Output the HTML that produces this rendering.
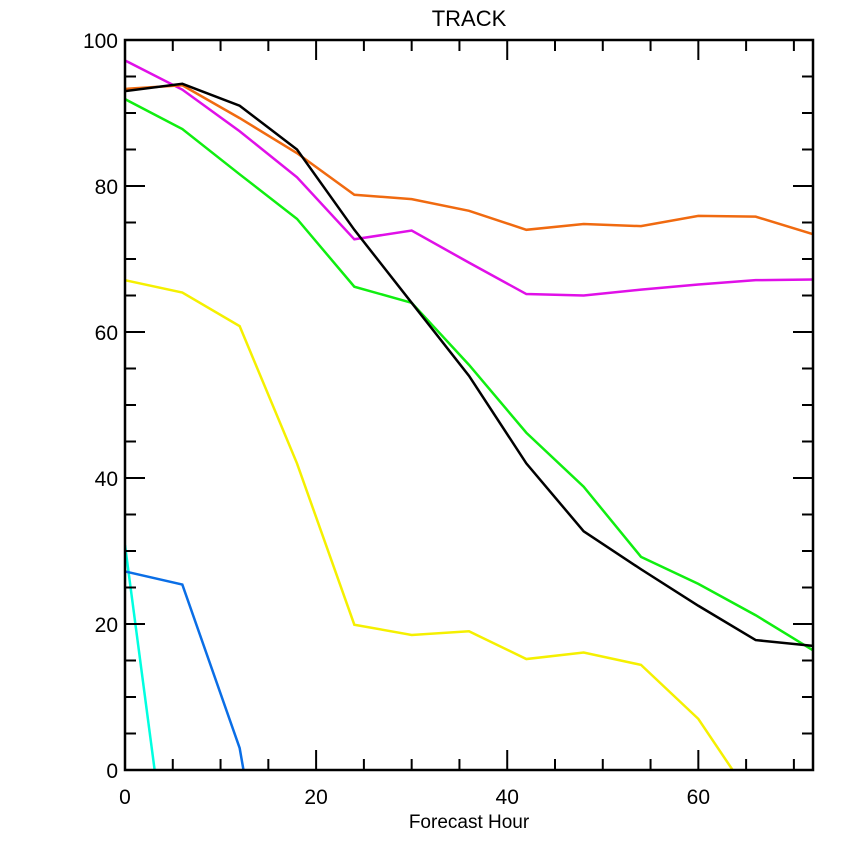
<!DOCTYPE html>
<html style="margin:0;width:850px;height:850px;overflow:hidden"><head><meta charset="utf-8"><style>html,body{margin:0;padding:0;width:850px;height:850px;overflow:hidden;background:#fff}svg{display:block;overflow:hidden}text{font-family:"Liberation Sans",sans-serif;fill:#000}</style></head>
<body>
<svg id="chart" width="850" height="850" viewBox="0 0 850 850">
<defs><clipPath id="clip"><rect x="125" y="40" width="688" height="730"/></clipPath></defs>
<rect width="850" height="850" fill="#fff"/>
<text x="469" y="26" font-size="22" text-anchor="middle">TRACK</text>
<text x="469" y="828" font-size="19" text-anchor="middle">Forecast Hour</text>
<g id="series" clip-path="url(#clip)"></g>
<g id="axes"></g>
</svg>
<script>
const hours = [0,6,12,18,24,30,36,42,48,54,60,66,72];
const xTicks = [0,20,40,60];
const yTicks = [0,20,40,60,80,100];
const blackVals = [93,94,91,85,74,64,54,42,32.7,27.5,22.5,17.8,17];
const orangeVals = [93.3,93.8,89.3,84.5,78.8,78.2,76.6,74,74.8,74.5,75.9,75.8,73.4];
const magentaVals = [97.2,93.2,87.5,81.2,72.7,73.9,69.5,65.2,65,65.8,66.5,67.1,67.2];
const greenVals = [91.9,87.8,81.6,75.5,66.2,64,55.5,46.2,38.8,29.2,25.5,21.2,16.4];
const yellowVals = [67.1,65.4,60.8,42,19.9,18.5,19,15.2,16.1,14.4,7,-4.7];
const blueVals = [27.2,25.4,3,-42];
const cyanVals = [30.8,-28.8];

const X0=125,X1=813,Y0=770,Y1=40;
const xs = h => X0 + (h/72)*(X1-X0);
const ys = v => Y0 - (v/100)*(Y0-Y1);
const NS="http://www.w3.org/2000/svg";
const sg=document.getElementById('series'), ag=document.getElementById('axes');

const series=[
 ['series-cyan',cyanVals,'#00ffe0'],
 ['series-blue',blueVals,'#0a6ee6'],
 ['series-yellow',yellowVals,'#f5f000'],
 ['series-green',greenVals,'#10ee10'],
 ['series-magenta',magentaVals,'#e010e8'],
 ['series-orange',orangeVals,'#f06a10'],
 ['series-black',blackVals,'#000000']
];
series.forEach(([name,vals,col])=>{
  const p=document.createElementNS(NS,'polyline');
  p.setAttribute('points',vals.map((v,i)=>xs(hours[i])+','+ys(v)).join(' '));
  p.setAttribute('fill','none');p.setAttribute('stroke',col);p.setAttribute('stroke-width','2.5');
  
  
  sg.appendChild(p);
});

function line(x1,y1,x2,y2,w){const l=document.createElementNS(NS,'line');
 l.setAttribute('x1',x1);l.setAttribute('y1',y1);l.setAttribute('x2',x2);l.setAttribute('y2',y2);
 l.setAttribute('stroke','#000');l.setAttribute('stroke-width',w||2);ag.appendChild(l);return l;}
const frame=document.createElementNS(NS,'rect');
frame.setAttribute('x',X0);frame.setAttribute('y',Y1);frame.setAttribute('width',X1-X0);frame.setAttribute('height',Y0-Y1);
frame.setAttribute('fill','none');frame.setAttribute('stroke','#000');frame.setAttribute('stroke-width','2.5');


ag.appendChild(frame);
for(let h=5;h<72;h+=5){const maj=h%20===0, L=maj?20:11;
 line(xs(h),Y0,xs(h),Y0-L);line(xs(h),Y1,xs(h),Y1+L);}
for(let v=5;v<100;v+=5){const maj=v%20===0, L=maj?20:11;
 line(X0,ys(v),X0+L,ys(v));line(X1,ys(v),X1-L,ys(v));}
xTicks.forEach(t=>{const tx=document.createElementNS(NS,'text');
 tx.setAttribute('x',xs(t));tx.setAttribute('y',804);tx.setAttribute('font-size','21');tx.setAttribute('text-anchor','middle');
 tx.textContent=t;
 
 
 ag.appendChild(tx);});
yTicks.forEach(t=>{const tx=document.createElementNS(NS,'text');
 tx.setAttribute('x',118);tx.setAttribute('y',ys(t)+8);tx.setAttribute('font-size','21');tx.setAttribute('text-anchor','end');
 tx.textContent=t;
 
 
 ag.appendChild(tx);});
</script>
</body></html>
